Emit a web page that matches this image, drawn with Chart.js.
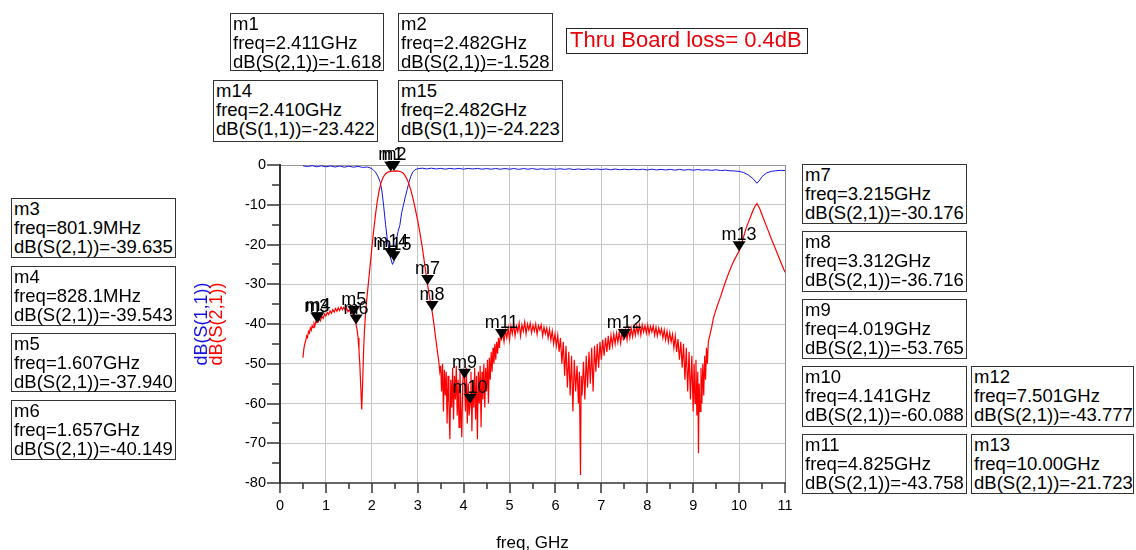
<!DOCTYPE html>
<html>
<head>
<meta charset="utf-8">
<title>dB(S(1,1)), dB(S(2,1)) vs freq</title>
<style>
  html, body { margin: 0; padding: 0; background: #fff; }
  #wrap { position: relative; width: 1136px; height: 550px; overflow: hidden;
          font-family: "Liberation Sans", Arial, sans-serif; }
  #c { position: absolute; left: 0; top: 0; }
  .readout { position: absolute; box-sizing: border-box; border: 1px solid #333; background: #fff;
             font-size: 18.5px; line-height: 19px; padding: 0 0 0 2px; color: #000; white-space: nowrap; }
  .note { position: absolute; box-sizing: border-box; border: 1.5px solid #222; background: #fff;
          color: #e8000b; font-size: 22px; line-height: 22px; padding-left: 3px; white-space: nowrap; }
</style>
<script src="https://cdn.jsdelivr.net/npm/chart.js@4/dist/chart.umd.min.js"></script>
</head>
<body>
<div id="wrap">
  <canvas id="c" width="1136" height="550"></canvas>
</div>
<script>
// ---- measured traces: [freq GHz, dB] ----
const s11Trace = [
  [0.50,-0.2],[0.60,-0.4],[0.70,-0.15],[0.80,-0.45],[0.90,-0.2],[1.00,-0.45],[1.10,-0.25],[1.20,-0.5],
  [1.30,-0.25],[1.40,-0.55],[1.50,-0.3],[1.60,-0.55],[1.70,-0.35],[1.80,-0.6],[1.90,-0.5],[1.96,-0.7],
  [2.02,-1.1],[2.08,-1.8],[2.13,-2.8],[2.18,-4.2],[2.22,-6.5],[2.26,-10.5],[2.30,-15],[2.34,-19],
  [2.38,-21.8],[2.410,-23.422],[2.45,-25.0],[2.482,-24.223],[2.51,-21.5],[2.54,-18.5],[2.57,-16.8],
  [2.61,-15.2],[2.65,-12.0],[2.69,-10.0],[2.73,-8.0],[2.77,-6.2],[2.81,-4.3],[2.85,-2.9],[2.89,-1.8],
  [2.94,-1.2],[3.0,-0.95],[3.1,-0.8],[3.2,-1.0],[3.3,-0.8],[3.4,-1.0],[3.5,-0.85],[3.6,-1.05],[3.7,-0.85],
  [3.8,-1.0],[3.9,-0.85],[4.0,-1.05],[4.1,-0.85],[4.2,-1.0],[4.3,-0.85],[4.4,-1.05],[4.5,-0.9],[4.6,-1.05],
  [4.7,-0.9],[4.8,-1.05],[4.9,-0.9],[5.0,-1.05],[5.1,-0.9],[5.2,-1.1],[5.3,-0.9],[5.4,-1.05],[5.5,-0.9],
  [5.6,-1.1],[5.7,-0.95],[5.8,-1.1],[5.9,-0.95],[6.0,-1.1],[6.1,-0.95],[6.2,-1.1],[6.3,-0.95],[6.4,-1.15],
  [6.5,-1.0],[6.6,-1.15],[6.7,-1.0],[6.8,-1.15],[6.9,-1.0],[7.0,-1.15],[7.1,-1.0],[7.2,-1.2],[7.3,-1.0],
  [7.4,-1.2],[7.5,-1.05],[7.6,-1.2],[7.7,-1.05],[7.8,-1.2],[7.9,-1.05],[8.0,-1.25],[8.1,-1.05],[8.2,-1.25],
  [8.3,-1.1],[8.4,-1.25],[8.5,-1.1],[8.6,-1.3],[8.7,-1.1],[8.8,-1.3],[8.9,-1.15],[9.0,-1.3],[9.1,-1.15],
  [9.2,-1.3],[9.3,-1.2],[9.4,-1.35],[9.5,-1.2],[9.6,-1.4],[9.7,-1.3],[9.8,-1.45],[9.9,-1.5],[10.0,-1.6],
  [10.1,-1.9],[10.2,-2.5],[10.3,-3.4],[10.39,-4.6],[10.45,-3.8],[10.5,-2.9],[10.6,-2.0],[10.7,-1.6],
  [10.8,-1.45],[10.9,-1.35],[11.0,-1.4]
];

const s21Trace = [
  [0.50,-48.5],[0.52,-46.2],[0.54,-45.0],[0.56,-44.2],[0.58,-43.0],[0.60,-43.4],[0.62,-41.9],[0.64,-42.3],
  [0.66,-41.0],[0.68,-41.6],[0.70,-40.4],[0.72,-40.9],[0.74,-39.9],[0.76,-40.5],[0.78,-39.4],[0.8019,-39.635],
  [0.8281,-39.543],[0.85,-38.7],[0.88,-39.2],[0.91,-38.1],[0.94,-38.6],[0.97,-37.5],[1.00,-38.0],[1.03,-37.1],
  [1.06,-37.6],[1.09,-36.7],[1.12,-37.3],[1.15,-36.4],[1.18,-37.0],[1.21,-36.1],[1.24,-36.8],[1.27,-35.9],
  [1.30,-36.6],[1.33,-35.7],[1.36,-36.4],[1.39,-35.8],[1.42,-36.5],[1.45,-35.9],[1.48,-36.9],[1.51,-36.4],
  [1.54,-37.3],[1.57,-37.0],[1.607,-37.94],[1.63,-38.4],[1.657,-40.149],[1.68,-41.5],[1.70,-43.5],[1.72,-46.5],
  [1.74,-50.5],[1.76,-56],[1.78,-61.5],[1.80,-55],[1.82,-47],[1.84,-41.5],[1.86,-38],[1.88,-35],[1.91,-31.5],
  [1.94,-28],[1.97,-24.5],[2.00,-21],[2.04,-16.5],[2.08,-12.5],[2.12,-9.0],[2.16,-6.4],[2.20,-4.5],[2.25,-3.0],
  [2.30,-2.2],[2.35,-1.8],[2.411,-1.618],[2.45,-1.56],[2.482,-1.528],[2.53,-1.5],[2.58,-1.55],[2.63,-1.7],
  [2.68,-2.0],[2.72,-2.6],[2.76,-3.4],[2.80,-4.5],[2.85,-6.3],[2.90,-8.6],[2.95,-11.2],[3.00,-14.0],
  [3.05,-17.2],[3.10,-20.8],[3.15,-24.8],[3.215,-30.176],[3.26,-33.4],[3.312,-36.716],[3.35,-39.8],
  [3.39,-43.5],[3.43,-47],[3.46,-49.5],[3.48,-52],
  [3.50,-50.5],[3.52,-57],[3.54,-50],[3.56,-62],[3.58,-51.5],[3.60,-58],[3.62,-52],[3.64,-65],[3.66,-53],
  [3.68,-60],[3.70,-69],[3.72,-54],[3.74,-61],[3.76,-51],[3.78,-64],[3.80,-53],[3.82,-59],[3.84,-50.5],
  [3.86,-63],[3.88,-54],[3.90,-66],[3.92,-52],[3.94,-61],[3.96,-68.5],[3.98,-55],[4.00,-51.5],[4.019,-53.765],
  [4.04,-62],[4.06,-51],[4.08,-65],[4.10,-55],[4.12,-63],[4.141,-60.088],[4.16,-52],[4.18,-67],[4.20,-54],
  [4.22,-61],[4.24,-51],[4.26,-64],[4.28,-53],[4.30,-69],[4.32,-52],[4.34,-60],[4.36,-50.5],[4.38,-66],
  [4.40,-52],[4.42,-59],[4.44,-50],[4.46,-61],[4.48,-51],[4.50,-57],[4.52,-49],[4.54,-60],[4.56,-48.5],
  [4.58,-54],[4.60,-47],[4.62,-52],[4.64,-46],[4.66,-50],[4.68,-45],[4.70,-49],[4.72,-44.5],[4.74,-47.5],
  [4.76,-43.5],[4.78,-46],[4.80,-42.8],[4.825,-43.758],
  [4.85,-42],[4.88,-44.5],[4.91,-41.5],[4.94,-43.5],[4.97,-41],[5.00,-44],[5.03,-40.5],[5.06,-42.5],
  [5.09,-40],[5.12,-43],[5.15,-40.5],[5.18,-42],[5.21,-39.8],[5.24,-43],[5.27,-40.2],[5.30,-41.8],
  [5.33,-39.5],[5.36,-42.5],[5.39,-40],[5.42,-41.5],[5.45,-39.8],[5.48,-42.2],[5.51,-40.3],[5.54,-41.8],
  [5.57,-40],[5.60,-42.6],[5.63,-40.4],[5.66,-41.5],[5.69,-40.2],[5.72,-43],[5.75,-40.8],[5.78,-42.5],
  [5.81,-41],[5.84,-43.5],[5.87,-41.3],[5.90,-44],[5.93,-41.8],[5.96,-45],[5.99,-42.5],
  [6.02,-45.5],[6.05,-42.8],[6.08,-47],[6.11,-43.5],[6.14,-50],[6.17,-44.5],[6.20,-53],[6.23,-45.5],
  [6.26,-56],[6.29,-47],[6.32,-58],[6.35,-48],[6.38,-62],[6.41,-49],[6.44,-57],[6.47,-50.5],[6.50,-60],
  [6.52,-52],[6.545,-78],[6.56,-53],[6.58,-58],[6.61,-49.5],[6.64,-59],[6.67,-48],[6.70,-56],[6.73,-47],
  [6.76,-55],[6.79,-46],[6.82,-57],[6.85,-45.5],[6.88,-52],[6.91,-45],[6.94,-51],[6.97,-44.5],[7.00,-49],
  [7.03,-44],[7.06,-48],[7.09,-43.5],[7.12,-47],[7.15,-43],[7.18,-46.5],[7.21,-42.8],[7.24,-45.5],
  [7.27,-42.5],[7.30,-45],[7.33,-42.3],[7.36,-44.6],[7.39,-42],[7.42,-44.8],[7.45,-41.8],[7.48,-44],
  [7.501,-43.777],[7.53,-41.5],[7.56,-44],[7.59,-41.2],[7.62,-43.5],[7.65,-41],[7.68,-43.2],[7.71,-40.8],
  [7.74,-42.8],[7.77,-40.5],[7.80,-42.5],[7.83,-40.3],[7.86,-42.8],[7.89,-40.2],[7.92,-42],[7.95,-40.4],
  [7.98,-42.3],[8.01,-40.2],[8.04,-42.5],[8.07,-40.6],[8.10,-42],[8.13,-40.5],[8.16,-42.8],[8.19,-40.8],
  [8.22,-43],[8.25,-41],[8.28,-42.6],[8.31,-41.2],[8.34,-43.5],[8.37,-41.5],[8.40,-44],[8.43,-41.8],
  [8.46,-44.5],[8.49,-42.2],[8.52,-44.5],[8.55,-42.6],[8.58,-46],[8.61,-43],[8.64,-47],[8.67,-43.8],
  [8.70,-49],[8.73,-44.5],[8.76,-51],[8.79,-45],[8.82,-54],[8.85,-46],[8.88,-57],[8.91,-47],[8.94,-59],
  [8.97,-48],[9.00,-62],[9.02,-50],[9.04,-60],[9.06,-49],[9.08,-63],[9.10,-52],[9.115,-72.5],[9.13,-55],
  [9.15,-62],[9.17,-51],[9.19,-60],[9.21,-50],[9.23,-58],[9.25,-48],[9.27,-54],[9.29,-46],[9.31,-50],
  [9.33,-44.5],[9.36,-43],[9.40,-41],[9.44,-38.5],[9.48,-37],[9.52,-35.6],[9.56,-34.3],[9.60,-33],
  [9.65,-31.2],[9.70,-29.5],[9.75,-27.9],[9.80,-26.4],[9.85,-25],[9.90,-23.8],[9.95,-22.7],[10.00,-21.723],
  [10.05,-20],[10.10,-18],[10.15,-16],[10.20,-14.5],[10.25,-13],[10.30,-11.5],[10.35,-10.3],[10.39,-9.7],
  [10.45,-11],[10.50,-12.5],[10.60,-15.5],[10.70,-18.5],[10.80,-21.3],[10.90,-24.2],[11.00,-27]
];

// ---- markers ----
const markerNames = ['m1','m2','m3','m4','m5','m6','m7','m8','m9','m10','m11','m12','m13','m14','m15'];
const markerFreq  = [2.411, 2.482, 0.8019, 0.8281, 1.607, 1.657, 3.215, 3.312, 4.019, 4.141, 4.825, 7.501, 10.00, 2.410, 2.482];
const markerDb    = [-1.618, -1.528, -39.635, -39.543, -37.940, -40.149, -30.176, -36.716, -53.765, -60.088, -43.758, -43.777, -21.723, -23.422, -24.223];
const markerTrace = ['S(2,1)','S(2,1)','S(2,1)','S(2,1)','S(2,1)','S(2,1)','S(2,1)','S(2,1)','S(2,1)','S(2,1)','S(2,1)','S(2,1)','S(2,1)','S(1,1)','S(1,1)'];

// ---- axis ticks and titles ----
const freqTicks = [0,1,2,3,4,5,6,7,8,9,10,11];
const dbTicks = [0,-10,-20,-30,-40,-50,-60,-70,-80];
const xTitle = 'freq, GHz';
const yTitles = ['dB(S(1,1))', 'dB(S(2,1))'];
const noteText = 'Thru Board loss= 0.4dB';

// ---- readout box placement [left, top, width, height] ----
const readoutPlacement = {
  m1:[230,13,154,58],  m2:[398,13,155,58],
  m14:[213,80,165,62], m15:[398,80,165,62],
  m3:[11,198,165,60],  m4:[11,266,165,60],  m5:[11,333,165,59],  m6:[11,400,165,60],
  m7:[802,164,165,60], m8:[802,231,165,61], m9:[802,299,165,60], m10:[802,366,165,61],
  m11:[802,434,165,60], m12:[971,366,163,61], m13:[971,434,163,60]
};

const FONT = '"Liberation Sans", Arial, sans-serif';
const S11_COLOR = '#1414e0';
const S21_COLOR = '#ff0000';

function fmtFreq(f) {
  return f < 1 ? (f * 1000).toPrecision(4) + 'MHz' : f.toPrecision(4) + 'GHz';
}

// marker readout boxes
const wrap = document.getElementById('wrap');
markerNames.forEach((name, i) => {
  const p = readoutPlacement[name];
  const d = document.createElement('div');
  d.className = 'readout';
  d.style.left = p[0] + 'px'; d.style.top = p[1] + 'px';
  d.style.width = p[2] + 'px'; d.style.height = p[3] + 'px';
  [name, 'freq=' + fmtFreq(markerFreq[i]), 'dB(' + markerTrace[i] + ')=' + markerDb[i].toFixed(3)]
    .forEach(t => { const l = document.createElement('div'); l.textContent = t; d.appendChild(l); });
  wrap.appendChild(d);
});
const note = document.createElement('div');
note.className = 'note';
Object.assign(note.style, { left: '566px', top: '28px', width: '242px', height: '26px' });
note.textContent = noteText;
wrap.appendChild(note);

// tick marks, axis titles and marker glyphs
const decor = {
  id: 'decor',
  afterDatasetsDraw(chart) {
    const ctx = chart.ctx, xs = chart.scales.x, ys = chart.scales.y;
    ctx.save();
    ctx.fillStyle = '#000';
    ctx.font = '18px ' + FONT;
    ctx.textAlign = 'center';
    ctx.textBaseline = 'alphabetic';
    markerNames.forEach((name, i) => {
      const px = xs.getPixelForValue(markerFreq[i]);
      const py = ys.getPixelForValue(markerDb[i]);
      ctx.beginPath();
      ctx.moveTo(px - 6.5, py - 10);
      ctx.lineTo(px + 6.5, py - 10);
      ctx.lineTo(px, py);
      ctx.closePath();
      ctx.fill();
      ctx.fillText(name, px, py - 11);
    });
    ctx.restore();
  },
  afterDraw(chart) {
    const ctx = chart.ctx, xs = chart.scales.x, ys = chart.scales.y, a = chart.chartArea;
    ctx.save();
    ctx.strokeStyle = '#333';
    ctx.lineWidth = 1.5;
    ctx.beginPath();
    for (let k = 0; k <= 22; k++) {
      const v = k / 2, px = Math.round(xs.getPixelForValue(v));
      ctx.moveTo(px, a.bottom);
      ctx.lineTo(px, a.bottom + (k % 2 === 0 ? 10 : 6));
    }
    for (let k = 0; k <= 16; k++) {
      const v = -k * 5, py = Math.round(ys.getPixelForValue(v));
      ctx.moveTo(a.left, py);
      ctx.lineTo(a.left - (k % 2 === 0 ? 13 : 8), py);
    }
    ctx.stroke();

    ctx.fillStyle = '#000';
    ctx.font = '17px ' + FONT;
    ctx.textAlign = 'center';
    ctx.textBaseline = 'middle';
    ctx.fillText(xTitle, (a.left + a.right) / 2, 543);

    const cy = (a.top + a.bottom) / 2;
    ctx.font = '18px ' + FONT;
    [[S11_COLOR, 202], [S21_COLOR, 217]].forEach((c, i) => {
      ctx.save();
      ctx.translate(c[1], cy);
      ctx.rotate(-Math.PI / 2);
      ctx.fillStyle = c[0];
      ctx.fillText(yTitles[i], 0, 0);
      ctx.restore();
    });
    ctx.restore();
  }
};

new Chart(document.getElementById('c'), {
  type: 'line',
  data: {
    datasets: [
      { label: yTitles[0], data: s11Trace.map(p => ({ x: p[0], y: p[1] })),
        borderColor: S11_COLOR, borderWidth: 1, pointRadius: 0, tension: 0, order: 2 },
      { label: yTitles[1], data: s21Trace.map(p => ({ x: p[0], y: p[1] })),
        borderColor: S21_COLOR, borderWidth: 1.2, pointRadius: 0, tension: 0, order: 1 }
    ]
  },
  options: {
    responsive: false,
    animation: false,
    devicePixelRatio: 1,
    layout: { padding: { left: 200, right: 351, top: 165, bottom: 27 } },
    plugins: { legend: { display: false }, tooltip: { enabled: false } },
    scales: {
      x: {
        type: 'linear', min: freqTicks[0], max: freqTicks[freqTicks.length - 1],
        afterFit(s) { s.height = 40; },
        afterBuildTicks(s) { s.ticks = freqTicks.map(v => ({ value: v })); },
        ticks: { padding: 14, color: '#000', maxRotation: 0, font: { family: FONT, size: 14.5 } },
        grid: { drawTicks: false, color: c => (c.tick && c.tick.value === 11 ? '#8a8a8a' : '#c6c6c6'), lineWidth: 1 },
        border: { color: '#666', width: 2 }
      },
      y: {
        type: 'linear', min: dbTicks[dbTicks.length - 1], max: dbTicks[0],
        afterFit(s) { s.width = 80; },
        afterBuildTicks(s) { s.ticks = dbTicks.slice().reverse().map(v => ({ value: v })); },
        ticks: { padding: 14, color: '#000', font: { family: FONT, size: 14.5 } },
        grid: { drawTicks: false, color: c => (c.tick && c.tick.value === 0 ? '#9a9a9a' : '#c6c6c6'), lineWidth: 1 },
        border: { color: '#333', width: 2 }
      }
    }
  },
  plugins: [decor]
});
</script>
</body>
</html>
